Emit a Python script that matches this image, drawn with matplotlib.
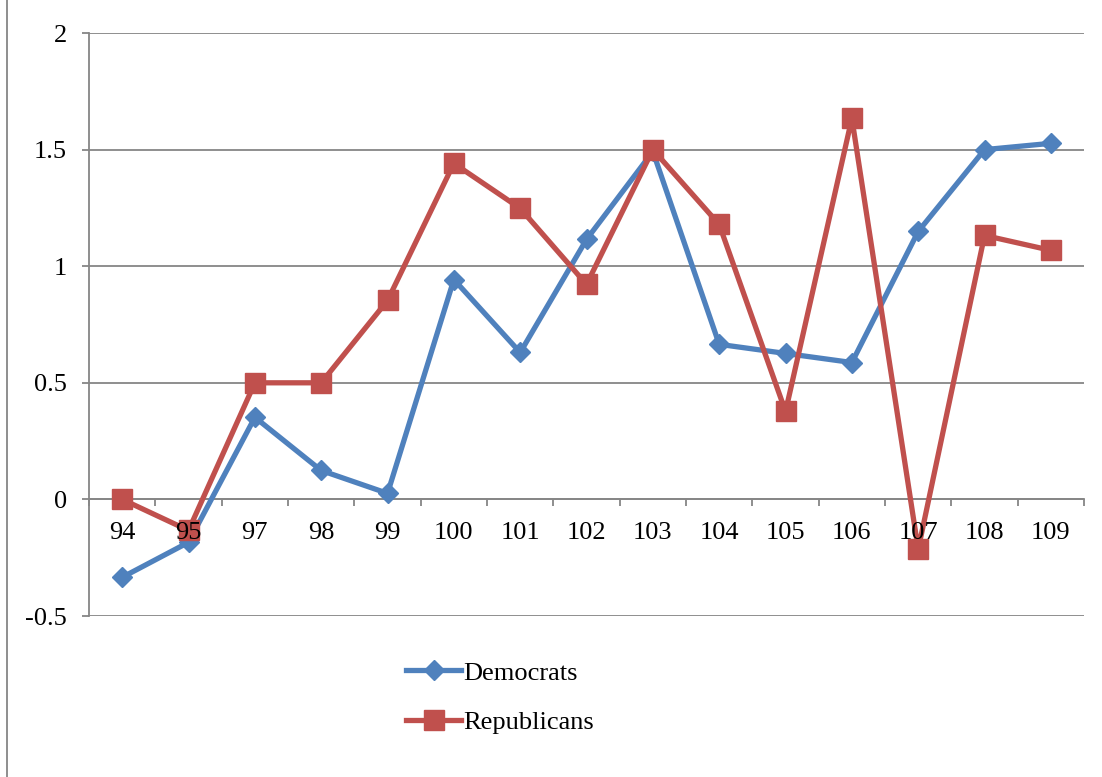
import matplotlib.pyplot as plt
from matplotlib.lines import Line2D

congress = ["94", "95", "97", "98", "99", "100", "101", "102", "103",
            "104", "105", "106", "107", "108", "109"]
democrats = [-0.334, -0.184, 0.352, 0.124, 0.026, 0.943, 0.630, 1.115, 1.492,
             0.665, 0.626, 0.587, 1.149, 1.500, 1.527]
republicans = [0.0, -0.133, 0.5, 0.5, 0.853, 1.441, 1.248, 0.922, 1.5,
               1.179, 0.377, 1.634, -0.214, 1.132, 1.068]

blue = "#4F81BD"
red = "#C0504D"
gray = "#868686"

plt.rcParams["font.family"] = ["Liberation Serif", "DejaVu Serif"]
plt.rcParams["font.size"] = 19

fig = plt.figure(figsize=(11.02, 7.77), dpi=100)
ax = fig.add_axes([0.0808, 0.2072, 0.9029, 0.7503])

x = range(len(congress))
ax.plot(x, democrats, color=blue, lw=3.8, marker="D", ms=10, label="Democrats",
        zorder=3)
ax.plot(x, republicans, color=red, lw=3.8, marker="s", ms=14, label="Republicans",
        zorder=3)

ax.set_xlim(-0.5, len(congress) - 0.5)
ax.set_ylim(-0.5, 2)
ax.set_yticks([-0.5, 0, 0.5, 1, 1.5, 2])
ax.set_yticklabels(["-0.5", "0", "0.5", "1", "1.5", "2"])
ax.yaxis.grid(True, color=gray, lw=1.3)
ax.set_axisbelow(True)
# category labels are drawn over the series
ax.xaxis.set_zorder(4)

# category axis crosses at zero, ticks sit between categories
ax.spines["bottom"].set_position(("data", 0))
ax.spines["bottom"].set_color(gray)
ax.spines["bottom"].set_linewidth(1.3)
ax.spines["bottom"].set_zorder(1)
ax.spines["left"].set_color(gray)
ax.spines["left"].set_linewidth(1.3)
ax.spines["top"].set_visible(False)
ax.spines["right"].set_visible(False)

ax.set_xticks(list(x))
ax.set_xticklabels(congress)
ax.set_xticks([i - 0.5 for i in range(len(congress) + 1)], minor=True)
ax.tick_params(axis="x", which="major", length=0, pad=16)
ax.tick_params(axis="x", which="minor", length=5, width=1.3, color=gray,
               direction="out")
ax.tick_params(axis="y", length=5, width=1.3, color=gray, pad=11)

fig.legend(loc="upper left", bbox_to_anchor=(0.3684, 0.149), frameon=False,
           borderpad=0, borderaxespad=0, handlelength=2.1, handletextpad=0.08,
           labelspacing=0.97)

# chart frame edge on the left
fig.add_artist(Line2D([0.0065, 0.0065], [0, 1], transform=fig.transFigure,
                      color=gray, lw=1.3))

fig.savefig("out.png", dpi=100)
